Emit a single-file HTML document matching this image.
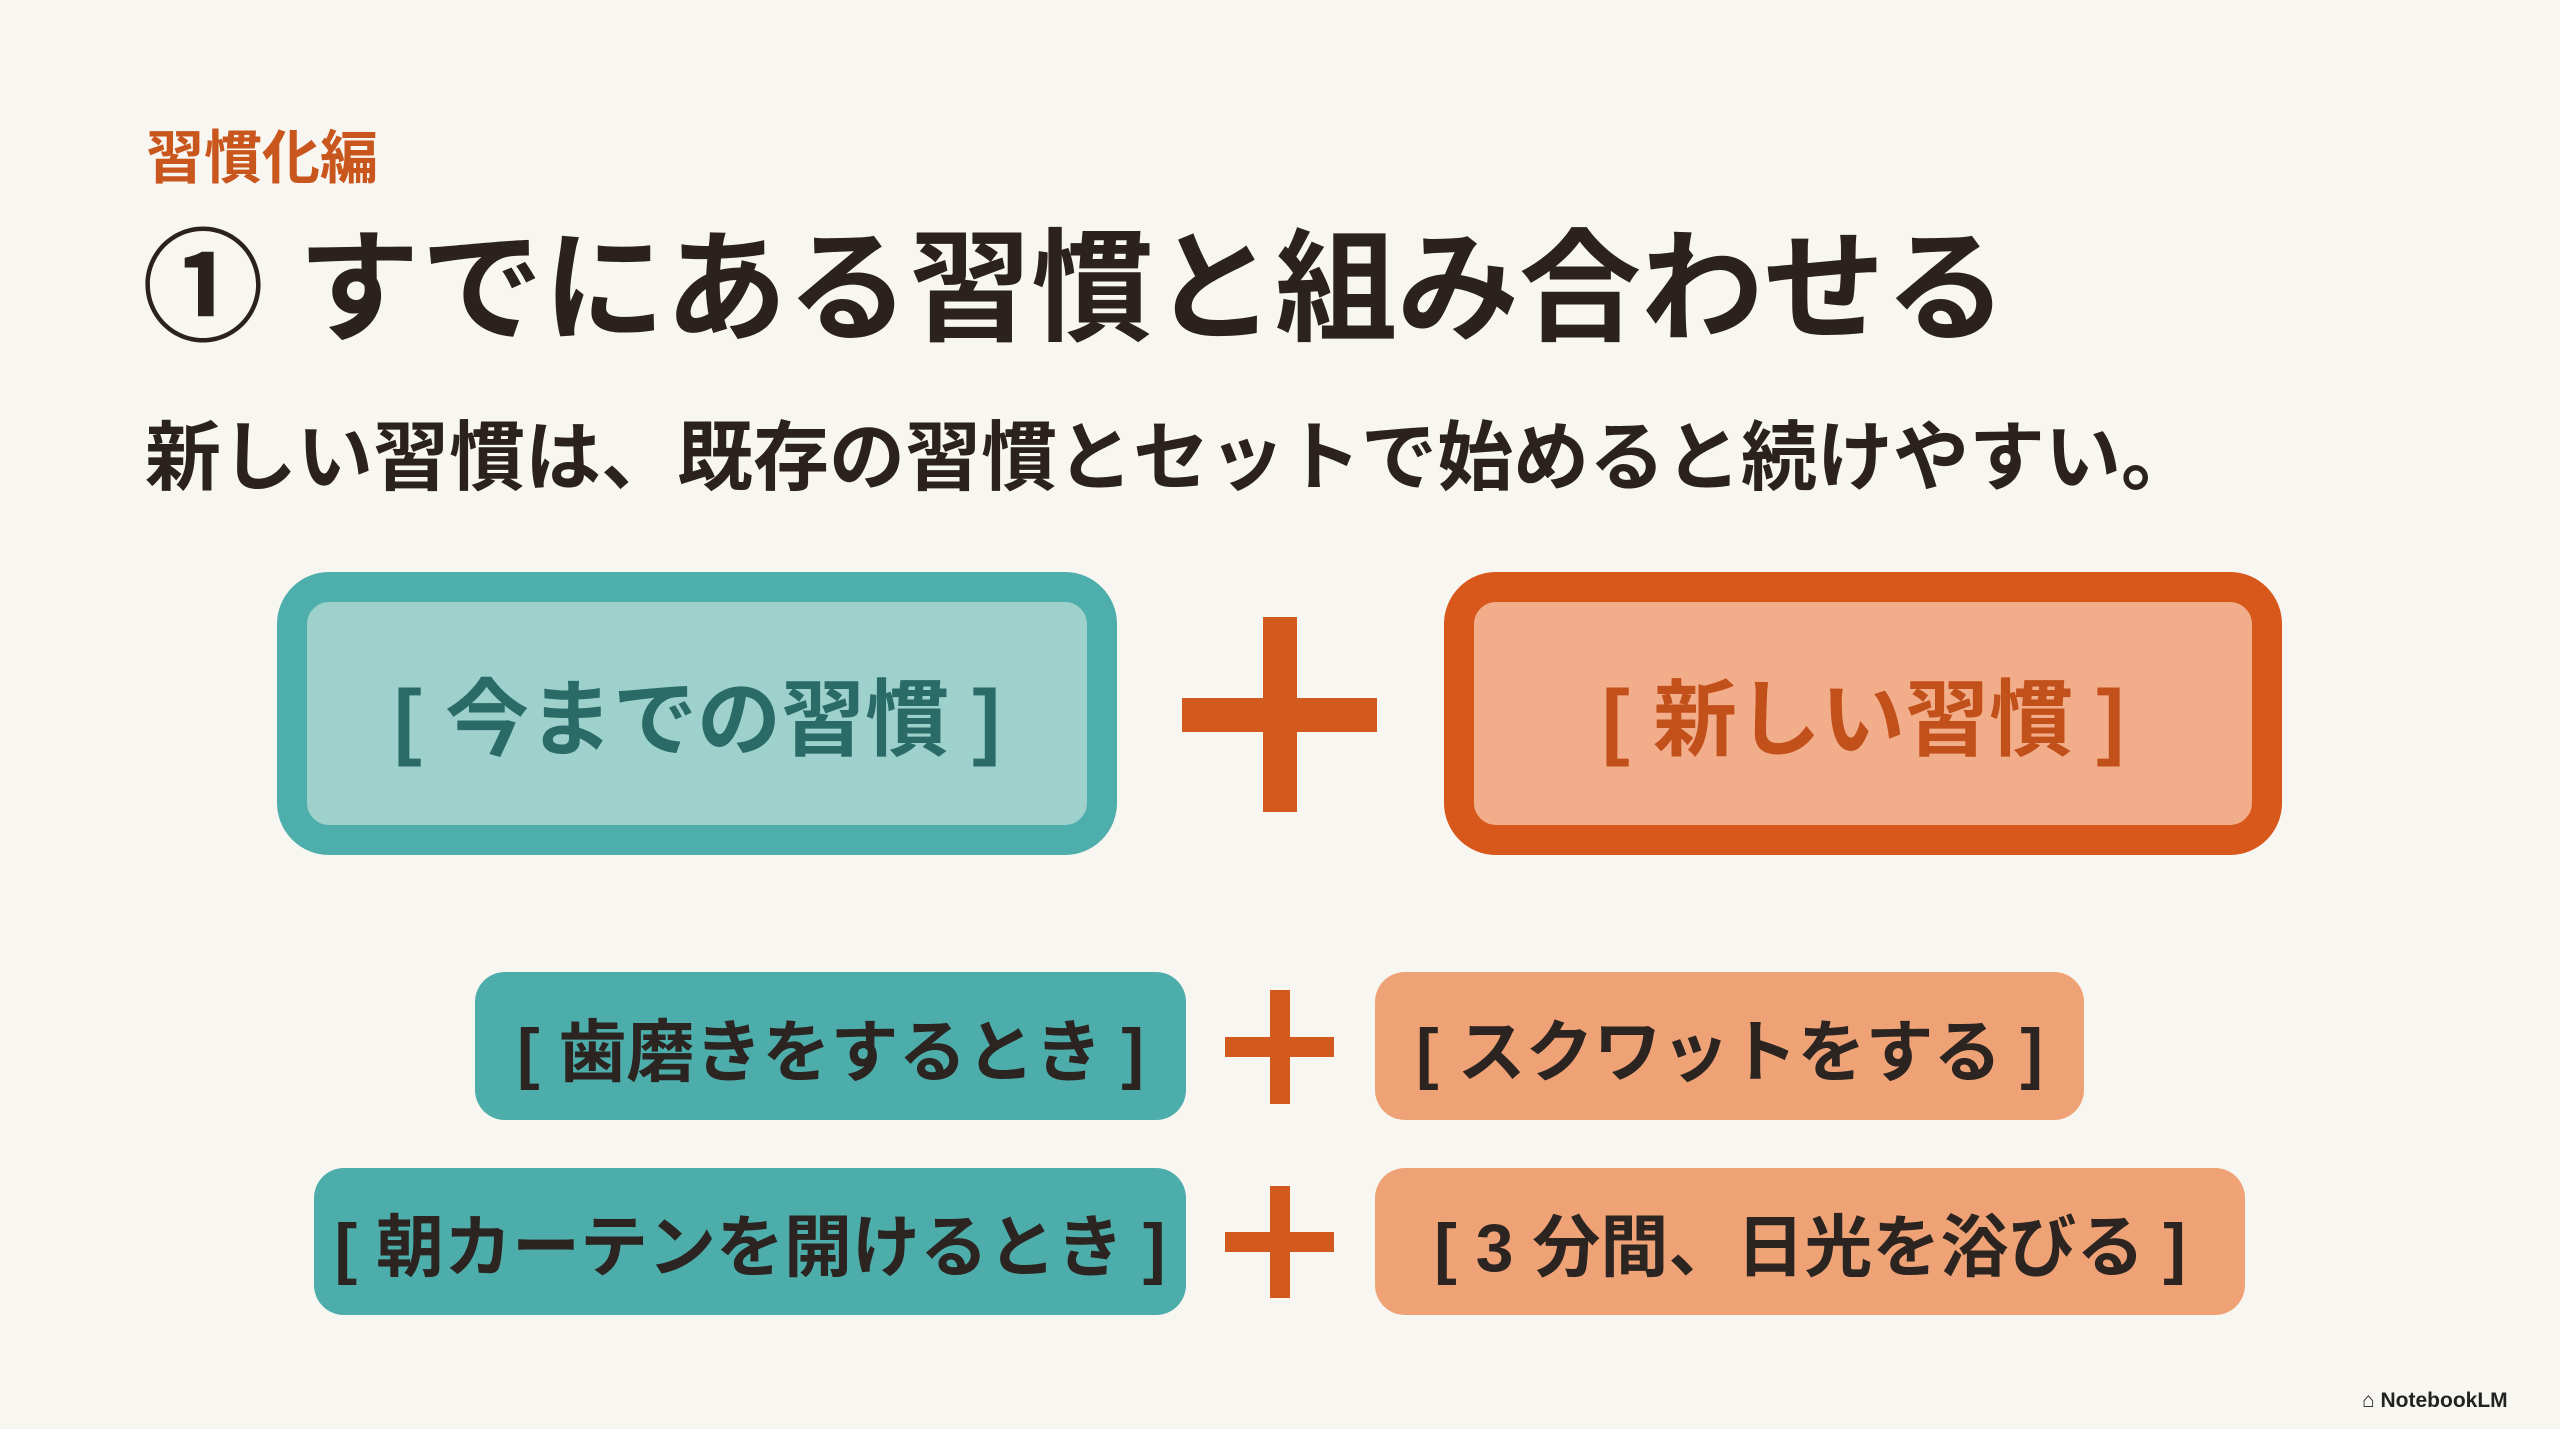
<!DOCTYPE html>
<html><head><meta charset="utf-8"><style>
html,body{margin:0;padding:0;}
body{width:2560px;height:1429px;background:#f8f6f1;position:relative;overflow:hidden;font-family:"Liberation Sans","Noto Sans CJK JP",sans-serif;}
.a{position:absolute;white-space:nowrap;}
.box{position:absolute;box-sizing:border-box;display:flex;align-items:center;justify-content:center;font-weight:bold;white-space:nowrap;}
</style></head><body>
<div class="a" style="left:146px;top:124px;font-size:58px;font-weight:bold;color:#c9561c;line-height:70px;">習慣化編</div>
<div class="a" style="left:142px;top:219px;font-size:122px;font-weight:bold;color:#2b221e;line-height:140px;">① すでにある習慣と組み合わせる</div>
<div class="a" style="left:145px;top:414px;font-size:76px;font-weight:bold;color:#2b221e;line-height:90px;">新しい習慣は、既存の習慣とセットで始めると続けやすい。</div>

<div class="box" style="left:277px;top:572px;width:840px;height:283px;border:30px solid #4eaeac;border-radius:52px;background:#9ed0cc;color:#2a6b68;font-size:84px;">[ 今までの習慣 ]</div>
<div style="position:absolute;left:1182px;top:698px;width:195px;height:34px;background:#d25a1e;"></div>
<div style="position:absolute;left:1263px;top:617px;width:34px;height:195px;background:#d25a1e;"></div>
<div class="box" style="left:1444px;top:572px;width:838px;height:283px;border:30px solid #d8571b;border-radius:52px;background:#f2ae8b;color:#c2501a;font-size:84px;">[ 新しい習慣 ]</div>

<div class="box" style="left:475px;top:972px;width:711px;height:148px;border-radius:30px;background:#4dadab;color:#2b2420;font-size:68px;">[ 歯磨きをするとき ]</div>
<div style="position:absolute;left:1225px;top:1037px;width:109px;height:20px;background:#d25a1e;"></div>
<div style="position:absolute;left:1270px;top:990px;width:20px;height:114px;background:#d25a1e;"></div>
<div class="box" style="left:1375px;top:972px;width:709px;height:148px;border-radius:30px;background:#f0a277;color:#2b2420;font-size:68px;">[ スクワットをする ]</div>

<div class="box" style="left:314px;top:1168px;width:872px;height:147px;border-radius:30px;background:#4dadab;color:#2b2420;font-size:68px;">[ 朝カーテンを開けるとき ]</div>
<div style="position:absolute;left:1225px;top:1232px;width:109px;height:20px;background:#d25a1e;"></div>
<div style="position:absolute;left:1270px;top:1186px;width:20px;height:112px;background:#d25a1e;"></div>
<div class="box" style="left:1375px;top:1168px;width:870px;height:147px;border-radius:30px;background:#f0a277;color:#2b2420;font-size:68px;">[ 3 分間、日光を浴びる ]</div>

<div class="a" style="left:2362px;top:1389px;font-size:21px;font-weight:bold;color:#222;">⌂ NotebookLM</div>
</body></html>
